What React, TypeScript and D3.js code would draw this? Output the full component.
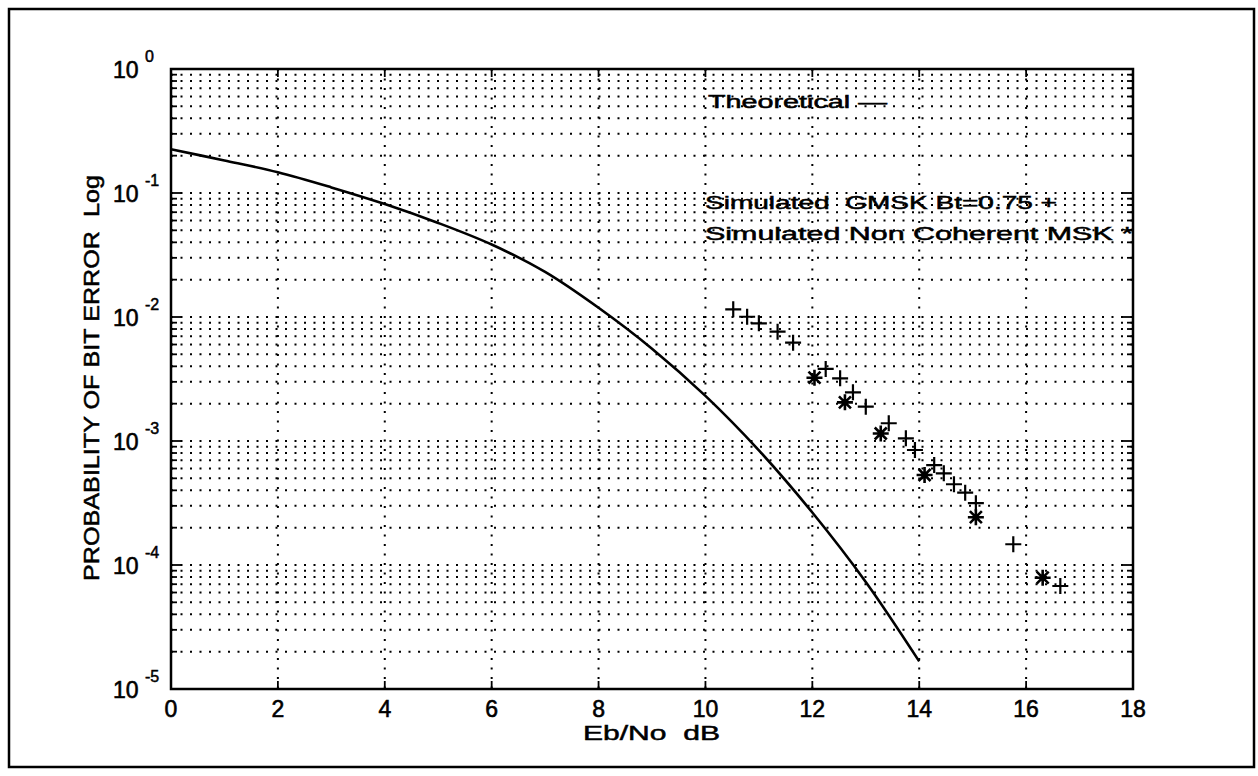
import React from "react";
import * as d3 from "d3";

const theoX = [0, 1, 2, 3, 4, 5, 6, 7, 8, 9, 10, 11, 12, 13, 14];
const theoY = [0.225, 0.183, 0.147, 0.111, 0.0815, 0.0573, 0.0384, 0.0231, 0.01186, 0.00555, 0.00231, 0.00084, 0.000265, 0.000073, 0.0000167];

const gmskX = [10.52, 10.78, 11.0, 11.35, 11.64, 12.25, 12.52, 12.76, 13.0, 13.43, 13.75, 13.92, 14.28, 14.46, 14.65, 14.86, 15.06, 15.76, 16.64];
const gmskY = [0.01153, 0.01005, 0.0089, 0.00761, 0.00621, 0.00381, 0.0032, 0.00247, 0.00189, 0.00139, 0.00105, 0.000846, 0.00064, 0.000549, 0.000448, 0.000383, 0.000315, 0.000147, 0.0000677];

const ncX = [12.04, 12.61, 13.28, 14.1, 15.06, 16.31];
const ncY = [0.00324, 0.00205, 0.00115, 0.000532, 0.000243, 0.000079];

const xTicks = [0, 2, 4, 6, 8, 10, 12, 14, 16, 18];
const yDecades = [0, -1, -2, -3, -4, -5];
const xLabel = "Eb/No  dB";
const yLabel = "PROBABILITY OF BIT ERROR  Log";
const legendLines = ["Theoretical —", "Simulated  GMSK Bt=0.75 +", "Simulated Non Coherent MSK *"];

const FONT = "'Liberation Sans', Arial, Helvetica, sans-serif";

export default function App() {
  const W = 1258, H = 776;
  const L = 171, R = 1133, T = 69, B = 689;
  const x = d3.scaleLinear().domain([0, 18]).range([L, R]);
  const y = d3.scaleLog().domain([1e-5, 1]).range([B, T]);

  const minorVals: number[] = [];
  for (let d = -5; d < 0; d++) {
    for (let m = 1; m <= 9; m++) {
      const v = m * Math.pow(10, d);
      if (!(m === 1 && d === -5)) minorVals.push(v);
    }
  }

  const theo = theoX.map((v, i) => [v, theoY[i]] as [number, number]);
  const line = d3
    .line<[number, number]>()
    .x((d) => x(d[0]))
    .y((d) => y(d[1]))
    .curve(d3.curveCatmullRom);

  const dots = "2 7.5";
  const plusPath = "M-8,0H8M0,-8V8";
  const starPath = "M-8,0H8M0,-8V8M-6,-6L6,6M-6,6L6,-6";

  return (
    <div style={{ position: "absolute", left: 0, top: 0 }}>
      <svg width={W} height={H} style={{ display: "block", background: "#fff" }}>
        <rect x={9} y={9} width={1245} height={758} fill="none" stroke="#000" strokeWidth={2.5} />
        {minorVals.map((v, i) => (
          <line key={"h" + i} x1={L} x2={R} y1={y(v)} y2={y(v)} stroke="#000" strokeWidth={2} strokeDasharray={dots} />
        ))}
        {xTicks.slice(1, -1).map((t) => (
          <line key={"v" + t} x1={x(t)} x2={x(t)} y1={T} y2={B} stroke="#000" strokeWidth={2} strokeDasharray={dots} />
        ))}
        {minorVals.map((v, i) => {
          const major = Math.abs(Math.log10(v) - Math.round(Math.log10(v))) < 1e-9;
          const len = major ? 10 : 6;
          return (
            <g key={"t" + i}>
              <line x1={L} x2={L + len} y1={y(v)} y2={y(v)} stroke="#000" strokeWidth={1.8} />
              <line x1={R} x2={R - len} y1={y(v)} y2={y(v)} stroke="#000" strokeWidth={1.8} />
            </g>
          );
        })}
        {xTicks.map((t) => (
          <g key={"xt" + t}>
            <line x1={x(t)} x2={x(t)} y1={B} y2={B - 8} stroke="#000" strokeWidth={1.8} />
            <line x1={x(t)} x2={x(t)} y1={T} y2={T + 8} stroke="#000" strokeWidth={1.8} />
          </g>
        ))}
        <rect x={L} y={T} width={R - L} height={B - T} fill="none" stroke="#000" strokeWidth={2.5} />
        <path d={line(theo) || ""} fill="none" stroke="#000" strokeWidth={2.6} />
        {gmskX.map((v, i) => (
          <path key={"p" + i} d={plusPath} transform={`translate(${x(v)},${y(gmskY[i])})`} stroke="#000" strokeWidth={2.2} fill="none" />
        ))}
        {ncX.map((v, i) => (
          <path key={"s" + i} d={starPath} transform={`translate(${x(v)},${y(ncY[i])})`} stroke="#000" strokeWidth={2.6} fill="none" />
        ))}
        {xTicks.map((t) => (
          <text key={"xl" + t} x={x(t)} y={717} textAnchor="middle" fontFamily={FONT} fontSize={23} stroke="#000" strokeWidth={0.6}>
            {t}
          </text>
        ))}
        {yDecades.map((k) => (
          <g key={"yl" + k}>
            <text x={113} y={y(Math.pow(10, k)) + 9} fontFamily={FONT} fontSize={23} stroke="#000" strokeWidth={0.6}>10</text>
            <text x={145} y={y(Math.pow(10, k)) - 7} fontFamily={FONT} fontSize={16} stroke="#000" strokeWidth={0.5}>{String(k)}</text>
          </g>
        ))}
        <text x={583} y={740} fontFamily={FONT} fontSize={21} textLength={137} lengthAdjust="spacingAndGlyphs" style={{ whiteSpace: "pre" }} stroke="#000" strokeWidth={0.5}>
          {xLabel}
        </text>
        <text transform="translate(99,581) rotate(-90)" fontFamily={FONT} fontSize={22} textLength={406} lengthAdjust="spacingAndGlyphs" style={{ whiteSpace: "pre" }} stroke="#000" strokeWidth={0.5}>
          {yLabel}
        </text>
        <text x={708} y={108} fontFamily={FONT} fontSize={18} textLength={179} lengthAdjust="spacingAndGlyphs" style={{ whiteSpace: "pre" }} stroke="#000" strokeWidth={0.5}>
          {legendLines[0]}
        </text>
        <text x={705} y={209} fontFamily={FONT} fontSize={18} textLength={352} lengthAdjust="spacingAndGlyphs" style={{ whiteSpace: "pre" }} stroke="#000" strokeWidth={0.5}>
          {legendLines[1]}
        </text>
        <text x={705} y={240} fontFamily={FONT} fontSize={18} textLength={428} lengthAdjust="spacingAndGlyphs" style={{ whiteSpace: "pre" }} stroke="#000" strokeWidth={0.5}>
          {legendLines[2]}
        </text>
      </svg>
    </div>
  );
}
